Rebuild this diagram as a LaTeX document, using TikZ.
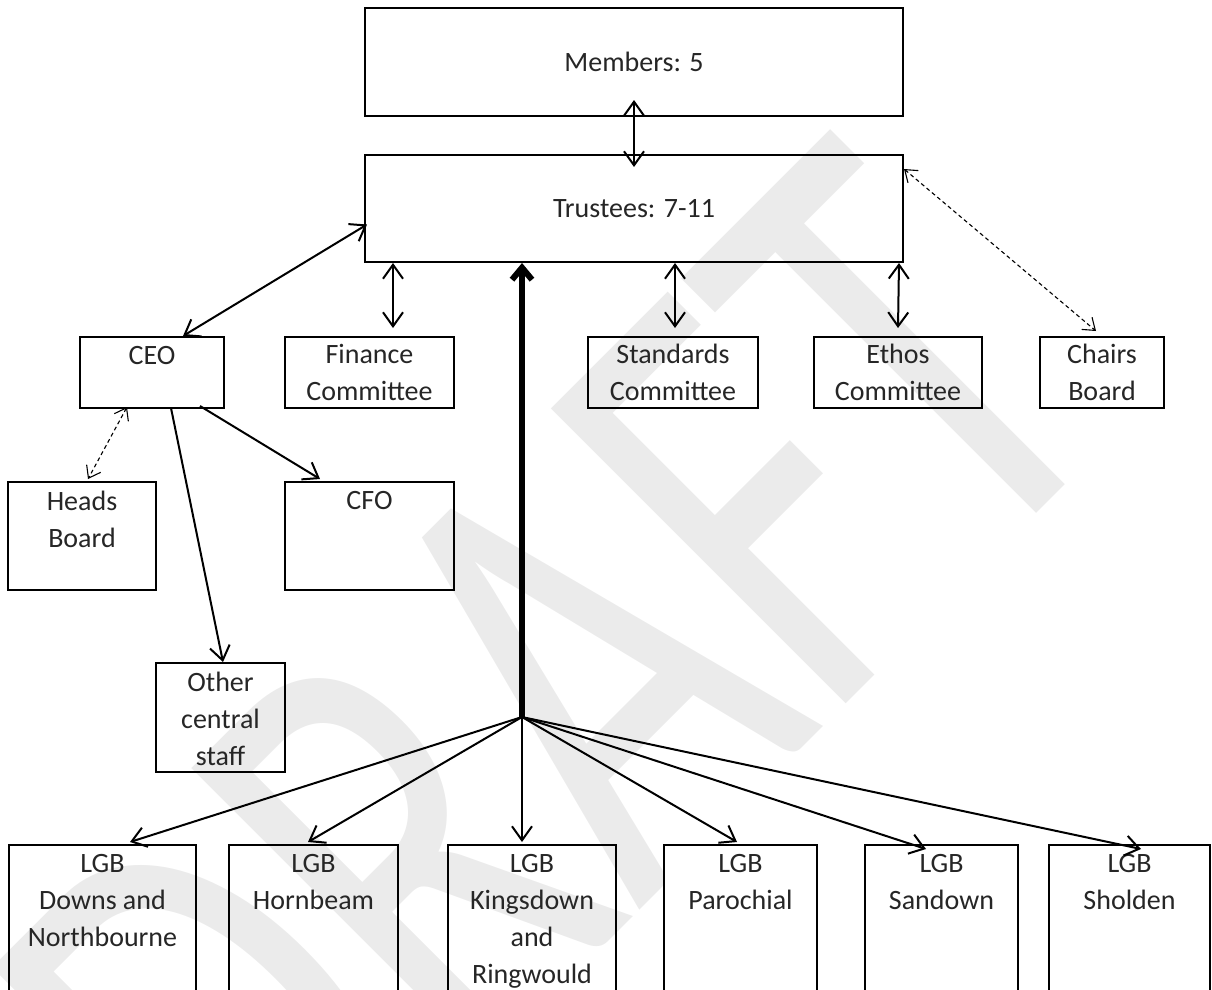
\documentclass[tikz,border=0pt]{standalone}
\usepackage{fontspec}
\usepackage{graphicx}
\setmainfont{Carlito}
\usetikzlibrary{arrows.meta}

\tikzset{
  box/.style={draw, line width=2pt, rectangle, inner sep=0pt, align=center},
  toptext/.style={label={[anchor=north, align=center, inner sep=0pt, yshift=-10pt]north:#1}},
  link/.style={line width=2pt, -{Straight Barb[length=14pt,width=20pt]}},
  biarrow/.style={line width=2pt, {Straight Barb[length=14pt,width=20pt]}-{Straight Barb[length=14pt,width=20pt]}},
  dashlink/.style={line width=1.1pt, dash pattern=on 4pt off 3pt, {Straight Barb[length=11pt,width=16pt]}-{Straight Barb[length=11pt,width=16pt]}},
  mainline/.style={line width=6pt, -{Straight Barb[length=12pt,width=20pt]}},
}

\begin{document}
\begin{tikzpicture}[x=1pt, y=-1pt, font=\fontsize{28}{37}\selectfont, text=black!85]
    \clip (0,0) rectangle (1212,989);

    % watermark
    \node[text=black!8, rotate=45, inner sep=0pt, font=\fontsize{650}{650}\selectfont] (draft) at (550,705) {\scalebox{0.7}[1]{DRAFT}};

    \node[box, minimum width=538, minimum height=108] (members) at (634,62) {Members: 5};
    \node[box, minimum width=538, minimum height=107] (trustees) at (634,208.5) {Trustees: 7-11};

    \node[box, minimum width=144, minimum height=71, toptext=CEO] (ceo) at (152,372.5) {};
    \node[box, minimum width=169, minimum height=71] (finance) at (369.5,372.5) {Finance\\Committee};
    \node[box, minimum width=170, minimum height=71] (standards) at (673,372.5) {Standards\\Committee};
    \node[box, minimum width=168, minimum height=71] (ethos) at (898,372.5) {Ethos\\Committee};
    \node[box, minimum width=124, minimum height=71] (chairs) at (1102,372.5) {Chairs\\Board};

    \node[box, minimum width=148, minimum height=108, toptext={Heads\\Board}] (heads) at (82,536) {};
    \node[box, minimum width=169, minimum height=108, toptext=CFO] (cfo) at (369.5,536) {};
    \node[box, minimum width=129, minimum height=109, toptext={Other\\central\\staff}] (other) at (220.5,717.5) {};

    \coordinate (hub) at (522,717);

    \node[box, minimum width=187, minimum height=180, toptext={LGB\\Downs and\\Northbourne}] (lgb1) at (102.5,935) {};
    \node[box, minimum width=169, minimum height=180, toptext={LGB\\Hornbeam}] (lgb2) at (313.5,935) {};
    \node[box, minimum width=168, minimum height=180, toptext={LGB\\Kingsdown\\and\\Ringwould}] (lgb3) at (532,935) {};
    \node[box, minimum width=153, minimum height=180, toptext={LGB\\Parochial}] (lgb4) at (740.5,935) {};
    \node[box, minimum width=153, minimum height=180, toptext={LGB\\Sandown}] (lgb5) at (941.5,935) {};
    \node[box, minimum width=161, minimum height=180, toptext={LGB\\Sholden}] (lgb6) at (1129.5,935) {};

    \draw[biarrow] ([yshift=17pt]members.south) -- ([yshift=-13pt]trustees.north);
    \draw[biarrow] ([xshift=31pt]ceo.north) -- ([shift={(3pt,-16pt)}]trustees.west);
    \draw[biarrow] ([xshift=-241pt]trustees.south) -- ([shift={(23.5pt,8pt)}]finance.north);
    \draw[biarrow] ([xshift=41pt]trustees.south) -- ([shift={(2pt,8pt)}]standards.north);
    \draw[biarrow] ([xshift=-5pt]trustees.south east) -- ([yshift=8pt]ethos.north);
    \draw[dashlink] ([yshift=-15pt]trustees.north east) -- ([shift={(-6pt,5pt)}]chairs.north);

    \draw[link] ([shift={(48pt,3pt)}]ceo.south) -- ([shift={(-49.5pt,2pt)}]cfo.north);
    \draw[link] ([shift={(19pt,1pt)}]ceo.south) -- ([xshift=2.5pt]other.north);
    \draw[dashlink] ([shift={(-25pt,2pt)}]ceo.south) -- ([shift={(6pt,2pt)}]heads.north);

    \draw[mainline] (hub) -- ([xshift=-112pt]trustees.south);
    \draw[link] (hub) -- ([shift={(27.5pt,2pt)}]lgb1.north);
    \draw[link] (hub) -- ([shift={(-5.5pt,2pt)}]lgb2.north);
    \draw[link] (hub) -- ([shift={(-10pt,2pt)}]lgb3.north);
    \draw[link] (hub) -- ([shift={(-3.5pt,2pt)}]lgb4.north);
    \draw[link] (hub) -- ([shift={(-15.5pt,-5pt)}]lgb5.north);
    \draw[link] (hub) -- ([shift={(11.5pt,-5pt)}]lgb6.north);
\end{tikzpicture}
\end{document}
